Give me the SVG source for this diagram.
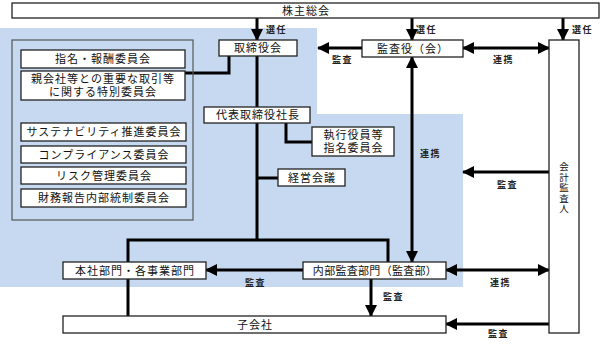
<svg xmlns="http://www.w3.org/2000/svg" width="604" height="344" viewBox="0 0 604 344">
<style>
.bx{fill:#fff;stroke:#222;stroke-width:1.3}
.t{font-family:"Noto Sans CJK JP","Noto Sans CJK SC",sans-serif;font-size:11px;fill:#111;text-anchor:middle;letter-spacing:1px}
.v{font-family:"Noto Sans CJK JP","Noto Sans CJK SC",sans-serif;font-size:9.5px;fill:#111;text-anchor:middle;writing-mode:vertical-rl;letter-spacing:1px}
.l{font-family:"Noto Sans CJK JP","Noto Sans CJK SC",sans-serif;font-size:9px;font-weight:bold;fill:#222;letter-spacing:1.5px}
.c{fill:none;stroke:#000;stroke-width:3}
</style>
<defs>
<marker id="ah" markerUnits="userSpaceOnUse" markerWidth="12" markerHeight="12" viewBox="0 0 12 12" refX="11" refY="6" orient="auto-start-reverse">
<path d="M0,0 L12,6 L0,12 Z" fill="#000"/>
</marker>
</defs>
<rect width="604" height="344" fill="#fff"/>
<path d="M0,28 H317 V114 H463 V287 H0 Z" fill="#c6d9f1"/>

<g id="connectors">
<path class="c" d="M229,56 V73 H185"/>
<path class="c" d="M257,56 V107"/>
<path class="c" d="M257,123 V240"/>
<path class="c" d="M286,123 V142 H312"/>
<path class="c" d="M257,178 H278"/>
<path class="c" d="M128,316 V240 H388 V262"/>
<path class="c" d="M257,18 V40" marker-end="url(#ah)"/>
<path class="c" d="M412,18 V40" marker-end="url(#ah)"/>
<path class="c" d="M563,18 V40" marker-end="url(#ah)"/>
<path class="c" d="M362,48 H318" marker-end="url(#ah)"/>
<path class="c" d="M463,48 H549" marker-start="url(#ah)" marker-end="url(#ah)"/>
<path class="c" d="M412,57 V262" marker-start="url(#ah)" marker-end="url(#ah)"/>
<path class="c" d="M549,172 H463" marker-end="url(#ah)"/>
<path class="c" d="M446,270 H549" marker-start="url(#ah)" marker-end="url(#ah)"/>
<path class="c" d="M549,324 H446" marker-end="url(#ah)"/>
<path class="c" d="M303,270 H206" marker-end="url(#ah)"/>
<path class="c" d="M371,279 V316" marker-end="url(#ah)"/>
<text class="l" x="266" y="33">選任</text>
<text class="l" x="416" y="33">選任</text>
<text class="l" x="572" y="33">選任</text>
<text class="l" x="332" y="63">監査</text>
<text class="l" x="493" y="63">連携</text>
<text class="l" x="420" y="157">連携</text>
<text class="l" x="497" y="188">監査</text>
<text class="l" x="245" y="286">監査</text>
<text class="l" x="383" y="300">監査</text>
<text class="l" x="490" y="286">連携</text>
<text class="l" x="488" y="337">監査</text>
</g>

<g id="kabunushi"><rect class="bx" x="12" y="3" width="587" height="15"/><text class="t" x="306" y="14.5">株主総会</text></g>
<g id="torishimariyaku"><rect class="bx" x="219" y="40" width="78" height="16"/><text class="t" x="258" y="52">取締役会</text></g>
<g id="committees"><rect x="12" y="40" width="181" height="180" fill="none" stroke="#555" stroke-width="1.2"/></g>
<g id="shimei"><rect class="bx" x="21" y="50" width="164" height="18"/><text class="t" x="103" y="63">指名・報酬委員会</text></g>
<g id="oya"><rect class="bx" x="21" y="71" width="164" height="29"/><text class="t" x="103" y="83"><tspan x="103" y="83">親会社等との重要な取引等</tspan><tspan x="103" y="96">に関する特別委員会</tspan></text></g>
<g id="sustain"><rect class="bx" x="21" y="123" width="165" height="18"/><text class="t" x="104" y="136">サステナビリティ推進委員会</text></g>
<g id="compliance"><rect class="bx" x="21" y="146" width="165" height="17"/><text class="t" x="104" y="158.5">コンプライアンス委員会</text></g>
<g id="risk"><rect class="bx" x="21" y="167" width="165" height="17"/><text class="t" x="104" y="179.5">リスク管理委員会</text></g>
<g id="zaimu"><rect class="bx" x="21" y="189" width="165" height="18"/><text class="t" x="104" y="202">財務報告内部統制委員会</text></g>
<g id="ceo"><rect class="bx" x="204" y="107" width="106" height="16"/><text class="t" x="258" y="119">代表取締役社長</text></g>
<g id="shikko"><rect class="bx" x="312" y="127" width="82" height="29"/><text class="t" x="353.5" y="139"><tspan x="353.5" y="139">執行役員等</tspan><tspan x="353.5" y="152">指名委員会</tspan></text></g>
<g id="keiei"><rect class="bx" x="278" y="169" width="67" height="17"/><text class="t" x="312" y="181.5">経営会議</text></g>
<g id="kansayaku"><rect class="bx" x="362" y="40" width="101" height="17"/><text class="t" x="413" y="52.5">監査役（会）</text></g>
<g id="kaikei"><rect class="bx" x="549" y="40" width="30" height="293"/>
<text class="v" x="564" y="188">会計監査人</text></g>
<g id="honsha"><rect class="bx" x="63" y="262" width="143" height="17"/><text class="t" x="135" y="274.5">本社部門・各事業部門</text></g>
<g id="naibu"><rect class="bx" x="303" y="262" width="143" height="17"/><text class="t" x="375" y="274.5" style="letter-spacing:0.3px">内部監査部門（監査部）</text></g>
<g id="kogaisha"><rect class="bx" x="63" y="316" width="383" height="17"/><text class="t" x="255" y="328.5">子会社</text></g>
</svg>
